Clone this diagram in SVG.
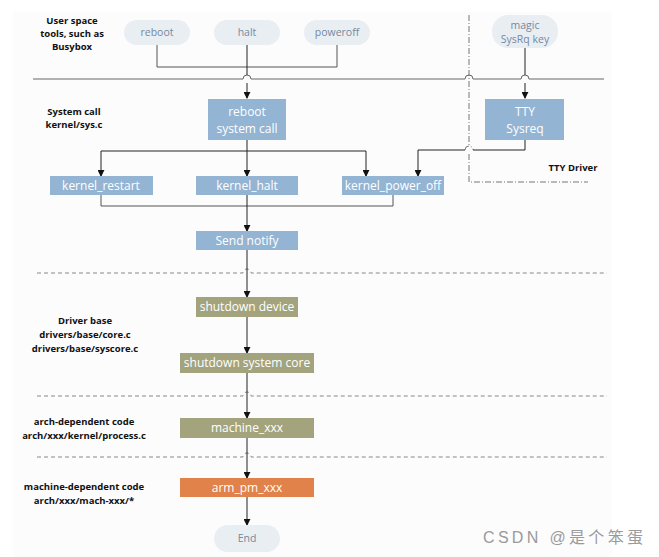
<svg xmlns="http://www.w3.org/2000/svg" width="659" height="557" viewBox="0 0 659 557">
<defs>
<marker id="ar" viewBox="0 0 8 8" refX="7" refY="4" markerWidth="7" markerHeight="7" markerUnits="userSpaceOnUse" orient="auto"><path d="M0,0 L8,4 L0,8 Z" fill="#111"/></marker>
</defs>
<style>
.lbl{font-family:"Open Sans","Liberation Sans",sans-serif;font-size:9.5px;font-weight:bold;fill:#111;text-anchor:middle}
.pill{fill:#e9eef3}
.pt{font-family:"Open Sans","Liberation Sans",sans-serif;font-size:10.5px;fill:#7589a0;text-anchor:middle}
.blue{fill:#93b4d3}
.olive{fill:#a3a47e}
.orange{fill:#e0824a}
.bt{font-family:"Open Sans","Liberation Sans",sans-serif;font-size:12px;fill:#fff;text-anchor:middle}
.c{fill:none;stroke:#555;stroke-width:1}
.ca{fill:none;stroke:#222;stroke-width:1;marker-end:url(#ar)}
.sep{fill:none;stroke:#666;stroke-width:1}
.dash{fill:none;stroke:#888;stroke-width:1;stroke-dasharray:4 3}
.dd{fill:none;stroke:#555;stroke-width:0.8;stroke-dasharray:6 2 1 2}
</style>
<rect x="13" y="12" width="599" height="545" fill="#fcfcfd"/>
<g id="labels">
<text class="lbl" x="72" y="24">User space</text>
<text class="lbl" x="72" y="37">tools, such as</text>
<text class="lbl" x="72" y="50">Busybox</text>
<text class="lbl" x="74" y="115">System call</text>
<text class="lbl" x="74" y="128">kernel/sys.c</text>
<text class="lbl" x="573" y="171">TTY Driver</text>
<text class="lbl" x="85" y="324">Driver base</text>
<text class="lbl" x="85" y="338">drivers/base/core.c</text>
<text class="lbl" x="85" y="352">drivers/base/syscore.c</text>
<text class="lbl" x="84" y="425">arch-dependent code</text>
<text class="lbl" x="84" y="439">arch/xxx/kernel/process.c</text>
<text class="lbl" x="84" y="490">machine-dependent code</text>
<text class="lbl" x="84" y="504">arch/xxx/mach-xxx/*</text>
</g>
<g id="separators">
<path class="sep" d="M33,79 H243 A4,4 0 0 1 251,79 H465 A4,4 0 0 1 473,79 H521 A4,4 0 0 1 529,79 H604"/>
<path class="dd" d="M469,15 V146 M469,154 V182 H588"/>
<path class="dd" d="M465,150 A4,4 0 0 1 473,150"/>
<path class="dash" d="M37,273 H243 A4,4 0 0 1 251,273 H607"/>
<path class="dash" d="M37,396 H243 A4,4 0 0 1 251,396 H607"/>
<path class="dash" d="M37,457 H243 A4,4 0 0 1 251,457 H607"/>
</g>
<g id="connectors">
<path class="c" d="M157,45 V67 H337 V45"/>
<path class="ca" d="M247,45 V75 M247,83 V98"/>
<path class="ca" d="M525,48 V75 M525,83 V98"/>
<path class="ca" d="M247,140 V176"/>
<path class="ca" d="M247,151 H101 V176"/>
<path class="ca" d="M247,151 H366 V176"/>
<path class="ca" d="M525,140 V150 H473 M465,150 H418 V176"/>
<path class="c" d="M101,195 V206 H393 V195"/>
<path class="ca" d="M247,195 V231"/>
<path class="ca" d="M247,250 V297"/>
<path class="ca" d="M247,317 V353"/>
<path class="ca" d="M247,373 V418"/>
<path class="ca" d="M247,438 V478"/>
<path class="ca" d="M247,497 V525"/>
</g>
<g id="reboot"><rect class="pill" x="124" y="20" width="66" height="25" rx="12.5"/><text class="pt" x="157" y="36">reboot</text></g>
<g id="halt"><rect class="pill" x="214" y="20" width="66" height="25" rx="12.5"/><text class="pt" x="247" y="36">halt</text></g>
<g id="poweroff"><rect class="pill" x="304" y="20" width="66" height="25" rx="12.5"/><text class="pt" x="337" y="36">poweroff</text></g>
<g id="magic"><rect class="pill" x="492" y="15" width="66" height="33" rx="16"/><text class="pt" x="525" y="29">magic</text><text class="pt" x="525" y="43">SysRq key</text></g>
<g id="reboot_syscall"><rect class="blue" x="208" y="99" width="78" height="41"/><text class="bt" x="247" y="116" font-size="13">reboot</text><text class="bt" x="247" y="133" font-size="13">system call</text></g>
<g id="tty_sysreq"><rect class="blue" x="485" y="99" width="79" height="41"/><text class="bt" x="525" y="116" font-size="13">TTY</text><text class="bt" x="525" y="133" font-size="13">Sysreq</text></g>
<g id="kernel_restart"><rect class="blue" x="50" y="176" width="103" height="19"/><text class="bt" x="101" y="190">kernel_restart</text></g>
<g id="kernel_halt"><rect class="blue" x="196" y="176" width="102" height="19"/><text class="bt" x="247" y="190">kernel_halt</text></g>
<g id="kernel_power_off"><rect class="blue" x="342" y="176" width="102" height="19"/><text class="bt" x="393" y="190">kernel_power_off</text></g>
<g id="send_notify"><rect class="blue" x="196" y="231" width="102" height="19"/><text class="bt" x="247" y="245">Send notify</text></g>
<g id="shutdown_device"><rect class="olive" x="196" y="297" width="102" height="20"/><text class="bt" x="247" y="311">shutdown device</text></g>
<g id="shutdown_core"><rect class="olive" x="180" y="353" width="134" height="20"/><text class="bt" x="247" y="367">shutdown system core</text></g>
<g id="machine_xxx"><rect class="olive" x="180" y="418" width="134" height="20"/><text class="bt" x="247" y="432">machine_xxx</text></g>
<g id="arm_pm_xxx"><rect class="orange" x="180" y="478" width="134" height="19"/><text class="bt" x="247" y="492">arm_pm_xxx</text></g>
<g id="end"><rect class="pill" x="214" y="525" width="66" height="27" rx="13.5"/><text class="pt" x="247" y="542">End</text></g>
<text x="483" y="543" textLength="160" lengthAdjust="spacing" font-family="Liberation Sans,Noto Sans CJK SC,sans-serif" font-size="16" fill="#9a9a9a">CSDN @是个笨蛋</text>
</svg>
